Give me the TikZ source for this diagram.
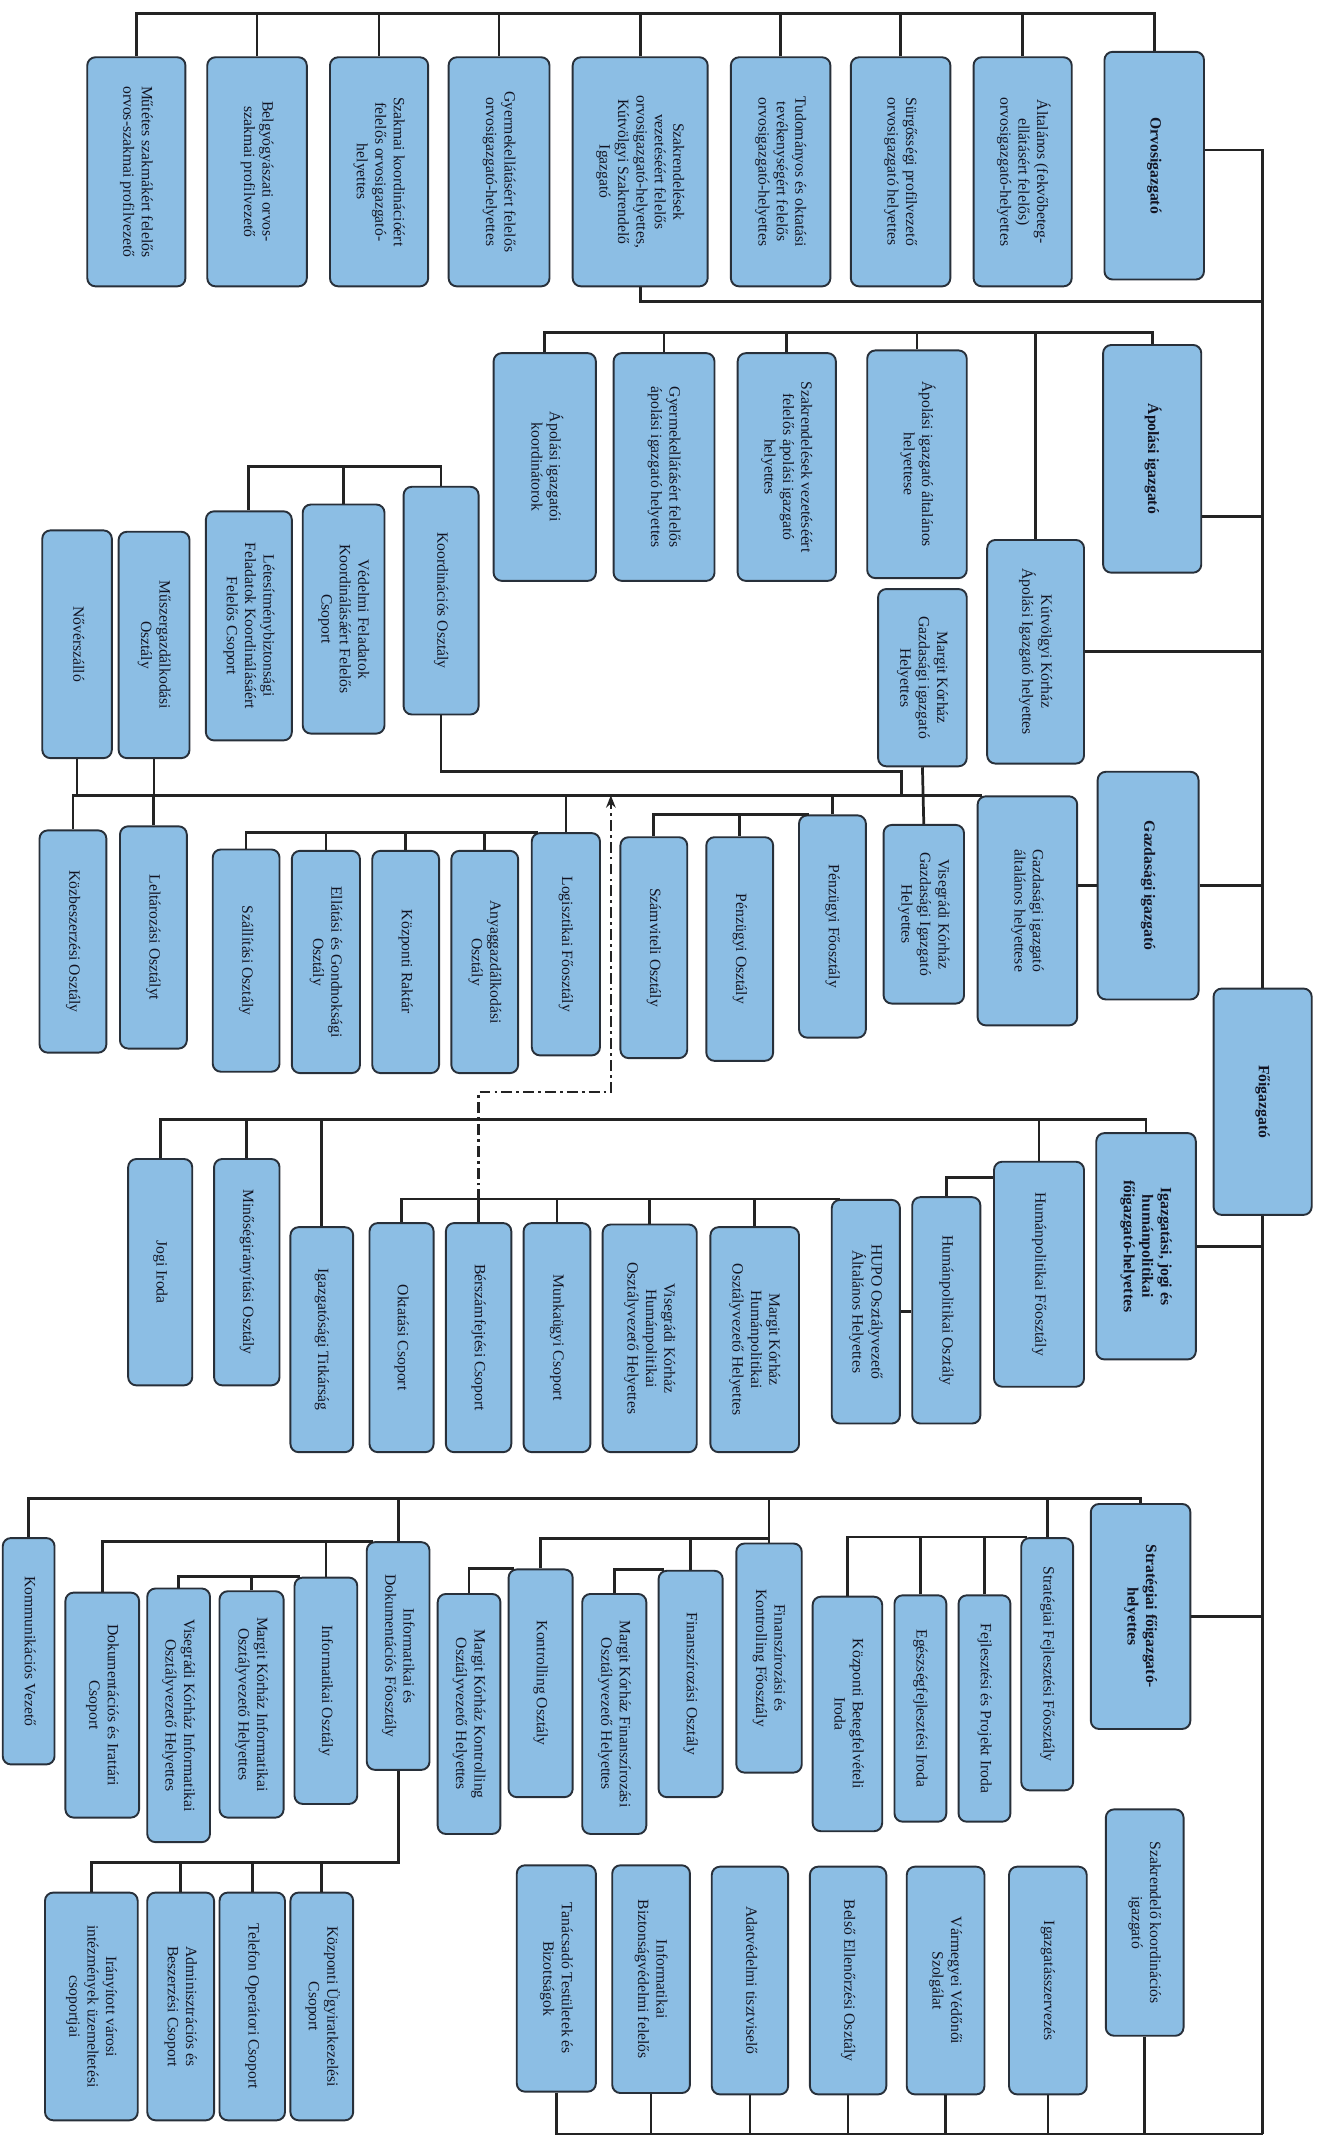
\documentclass[tikz,border=0pt]{standalone}
\usepackage{fontspec}
\setmainfont{Liberation Serif}
\usepackage{graphicx}
\usetikzlibrary{arrows.meta}
\definecolor{boxfill}{RGB}{140,190,228}
\definecolor{boxline}{RGB}{40,48,58}
\definecolor{wirec}{RGB}{35,35,35}
\definecolor{ink}{RGB}{18,20,35}
\newcommand{\vtxt}[1]{\rotatebox{-90}{\begin{tabular}{@{}c@{}}#1\end{tabular}}}

\begin{document}
\begin{tikzpicture}[x=1pt,y=-1pt,line join=miter,>=Stealth,
  every node/.style={font=\fontsize{11.5}{13.5}\selectfont,text=ink},
  box/.style 2 args={draw=boxline,fill=boxfill,line width=1.4pt,rounded corners=6pt,
    inner sep=0pt,minimum width=#1pt,minimum height=#2pt},
  boss/.style={font=\fontsize{11.5}{13.5}\selectfont\bfseries},
  wire/.style={draw=wirec,line width=2pt},
  viaarrow/.style={draw=wirec,line width=1.7pt,dash pattern=on 8pt off 3pt on 2pt off 3pt,
    -{Stealth[length=9pt,width=7pt]}}]
  \useasboundingbox (0,0) rectangle (970,1568);
  \fill[white] (0,0) rectangle (970,1568);

  % orvosigazgato
  \node[box={72}{168}] (mutetes) at (100,126) {\vtxt{Műtétes szakmákért felelős\\orvos-szakmai profilvezető}};
  \node[box={73}{168}] (belgy) at (188.5,126) {\vtxt{Belgyógyászati orvos-\\szakmai profilvezető}};
  \node[box={72}{168}] (szakmkoord) at (278,126) {\vtxt{Szakmai koordinációért\\felelős orvosigazgató-\\helyettes}};
  \node[box={74}{168}] (gyerm) at (366,126) {\vtxt{Gyermekellátásért felelős\\orvosigazgató-helyettes}};
  \node[box={99}{168}] (szakr) at (469.5,126) {\vtxt{Szakrendelések\\vezetéséért felelős\\orvosigazgató-helyettes,\\Kútvölgyi Szakrendelő\\Igazgató}};
  \node[box={73}{168}] (tud) at (572.5,126) {\vtxt{Tudományos és oktatási\\tevékenységért felelős\\orvosigazgató-helyettes}};
  \node[box={73}{168}] (surg) at (660.5,126) {\vtxt{Sürgősségi profilvezető\\orvosigazgató helyettes}};
  \node[box={72}{168}] (altal) at (750,126) {\vtxt{Általános (fekvőbeteg-\\ellátásért felelős)\\orvosigazgató-helyettes}};
  \node[box={73}{167},boss] (orv) at (846.5,121.5) {\vtxt{Orvosigazgató}};

  % apolasi igazgato
  \node[box={75}{167}] (apkoord) at (399.5,342.5) {\vtxt{Ápolási igazgatói\\koordinátorok}};
  \node[box={74}{167}] (apgyerm) at (487,342.5) {\vtxt{Gyermekellátásért felelős\\ápolási igazgató helyettes}};
  \node[box={72}{167}] (apszakr) at (577,342.5) {\vtxt{Szakrendelések vezetéséért\\felelős ápolási igazgató\\helyettes}};
  \node[box={73}{167}] (apalt) at (672.5,340.5) {\vtxt{Ápolási igazgató általános\\helyettese}};
  \node[box={72}{167},boss] (apol) at (845,336.5) {\vtxt{Ápolási igazgató}};
  \node[box={71}{164}] (kutv) at (759.5,478) {\vtxt{Kútvölgyi Kórház\\Ápolási Igazgató helyettes}};

  % koordinacio
  \node[box={51}{167}] (novsz) at (56.5,472.5) {\vtxt{Nővérszálló}};
  \node[box={52}{166}] (muszer) at (113,473) {\vtxt{Műszergazdálkodási\\Osztály}};
  \node[box={63}{168}] (letes) at (182.5,459) {\vtxt{Létesítménybiztonsági\\Feladatok Koordinálásáért\\Felelős Csoport}};
  \node[box={60}{168}] (vedelmi) at (252,454) {\vtxt{Védelmi Feladatok\\Koordinálásáért Felelős\\Csoport}};
  \node[box={55}{167}] (koord) at (323.5,440.5) {\vtxt{Koordinációs Osztály}};

  % gazdasagi igazgato
  \node[box={74}{167},boss] (gazd) at (842,649.5) {\vtxt{Gazdasági igazgató}};
  \node[box={73}{168}] (gazdalt) at (753.5,668) {\vtxt{Gazdasági igazgató\\általános helyettese}};
  \node[box={65}{130}] (margg) at (676.5,497) {\vtxt{Margit Kórház\\Gazdasági igazgató\\Helyettes}};
  \node[box={59}{131}] (viseg) at (677.5,670.5) {\vtxt{Visegrádi Kórház\\Gazdasági Igazgató\\Helyettes}};
  \node[box={49}{163}] (penzf) at (610.5,679.5) {\vtxt{Pénzügyi Főosztály}};
  \node[box={49}{164}] (penzo) at (542.5,696) {\vtxt{Pénzügyi Osztály}};
  \node[box={49}{162}] (szamv) at (479.5,695) {\vtxt{Számviteli Osztály}};
  \node[box={50}{163}] (logi) at (415,692.5) {\vtxt{Logisztikai Főosztály}};
  \node[box={49}{163}] (anyag) at (355.5,705.5) {\vtxt{Anyaggazdálkodási\\Osztály}};
  \node[box={49}{163}] (raktar) at (297.5,705.5) {\vtxt{Központi Raktár}};
  \node[box={50}{163}] (ellat) at (239,705.5) {\vtxt{Ellátási és Gondnoksági\\Osztály}};
  \node[box={49}{163}] (szall) at (180.5,704.5) {\vtxt{Szállítási Osztály}};
  \node[box={49}{163}] (leltar) at (112.5,687.5) {\vtxt{Leltározási Osztályt}};
  \node[box={49}{163}] (kozb) at (53.5,690.5) {\vtxt{Közbeszerzési Osztály}};

  % fo- es igazgatasi
  \node[box={72}{166},boss] (fo) at (926,808) {\vtxt{Főigazgató}};
  \node[box={73}{166},boss] (igjog) at (840.5,914) {\vtxt{Igazgatási, jogi és\\humánpolitikai\\főigazgató-helyettes}};
  \node[box={66}{165}] (humfo) at (762,934.5) {\vtxt{Humánpolitikai Főosztály}};
  \node[box={50}{166}] (humo) at (694,961) {\vtxt{Humánpolitikai Osztály}};
  \node[box={50}{164}] (hupo) at (635,962) {\vtxt{HUPO Osztályvezető\\Általános Helyettes}};
  \node[box={65}{165}] (margh) at (553.5,982.5) {\vtxt{Margit Kórház\\Humánpolitikai\\Osztályvezető Helyettes}};
  \node[box={69}{167}] (visegh) at (476.5,981.5) {\vtxt{Visegrádi Kórház\\Humánpolitikai\\Osztályvezető Helyettes}};
  \node[box={49}{168}] (munka) at (408.5,981) {\vtxt{Munkaügyi Csoport}};
  \node[box={48}{168}] (berszam) at (351,981) {\vtxt{Bérszámfejtési Csoport}};
  \node[box={47}{168}] (oktat) at (294.5,981) {\vtxt{Oktatási Csoport}};
  \node[box={46}{165}] (titk) at (236,982.5) {\vtxt{Igazgatósági Titkárság}};
  \node[box={48}{166}] (minos) at (181,933) {\vtxt{Minőségirányítási Osztály}};
  \node[box={47}{166}] (jogi) at (117.5,933) {\vtxt{Jogi Iroda}};

  % strategiai
  \node[box={73}{165},boss] (strat) at (836.5,1185.5) {\vtxt{Stratégiai főigazgató-\\helyettes}};
  \node[box={38}{185}] (stfejl) at (768,1220.5) {\vtxt{Stratégiai Fejlesztési Főosztály}};
  \node[box={38}{166}] (fejlpr) at (722,1253) {\vtxt{Fejlesztési és Projekt Iroda}};
  \node[box={38}{166}] (egesz) at (675,1253) {\vtxt{Egészségfejlesztési Iroda}};
  \node[box={51}{172}] (kozbeteg) at (621.5,1257) {\vtxt{Központi Betegfelvételi\\Iroda}};
  \node[box={48}{168}] (finko) at (564,1216) {\vtxt{Finanszírozási és\\Kontrolling Főosztály}};
  \node[box={47}{166}] (finoszt) at (506.5,1235) {\vtxt{Finanszírozási Osztály}};
  \node[box={47}{176}] (margfin) at (450.5,1257) {\vtxt{Margit Kórház Finanszírozási\\Osztályvezető Helyettes}};
  \node[box={47}{167}] (kontr) at (396.5,1234.5) {\vtxt{Kontrolling Osztály}};
  \node[box={46}{176}] (margkon) at (344,1257) {\vtxt{Margit Kórház Kontrolling\\Osztályvezető Helyettes}};
  \node[box={46}{167}] (infodok) at (292,1214.5) {\vtxt{Informatikai és\\Dokumentációs Főosztály}};
  \node[box={46}{166}] (infoszt) at (239,1240) {\vtxt{Informatikai Osztály}};
  \node[box={47}{166}] (margin) at (184.5,1250) {\vtxt{Margit Kórház Informatikai\\Osztályvezető Helyettes}};
  \node[box={46}{186}] (visin) at (131,1258) {\vtxt{Visegrádi Kórház Informatikai\\Osztályvezető Helyettes}};
  \node[box={54}{165}] (dokir) at (75,1250.5) {\vtxt{Dokumentációs és Irattári\\Csoport}};
  \node[box={38}{166}] (kommun) at (21,1211) {\vtxt{Kommunikációs Vezető}};
  \node[box={68}{167}] (irany) at (67,1471.5) {\vtxt{Irányított városi\\intézmények üzemeltetési\\csoportjai}};
  \node[box={49}{167}] (admin) at (132.5,1471.5) {\vtxt{Adminisztrációs és\\Beszerzési Csoport}};
  \node[box={48}{167}] (telefon) at (185,1471.5) {\vtxt{Telefon Operátori Csoport}};
  \node[box={46}{167}] (ugyirat) at (236,1471.5) {\vtxt{Központi Ügyiratkezelési\\Csoport}};

  % also sor
  \node[box={58}{166}] (tanacs) at (408,1451) {\vtxt{Tanácsadó Testületek és\\Bizottságok}};
  \node[box={57}{167}] (infobiz) at (477.5,1451.5) {\vtxt{Informatikai\\Biztonságvédelmi felelős}};
  \node[box={56}{167}] (adatv) at (550,1452.5) {\vtxt{Adatvédelmi tisztviselő}};
  \node[box={56}{167}] (belso) at (622,1452.5) {\vtxt{Belső Ellenőrzési Osztály}};
  \node[box={57}{167}] (varm) at (693.5,1452.5) {\vtxt{Vármegyei Védőnői\\Szolgálat}};
  \node[box={57}{167}] (igszerv) at (768.5,1452.5) {\vtxt{Igazgatásszervezés}};
  \node[box={57}{166}] (szkoordig) at (839.5,1410) {\vtxt{Szakrendelő koordinációs\\igazgató}};

  % connectors
  \coordinate (obus) at (0,10);
  \draw[wire] (mutetes.north) |- (obus -| orv.north) -- (orv.north);
  \foreach \n in {belgy,szakmkoord,gyerm,szakr,tud,surg,altal}
    \draw[wire] (\n.north) -- (\n.north |- obus);
  \draw[wire] ([yshift=11.5pt]orv.east) -| (fo.north);
  \coordinate (sline) at (0,221);
  \draw[wire] (szakr.south) |- (sline -| fo.north);

  \coordinate (abus) at (0,244);
  \draw[wire] (apkoord.north) |- (abus -| apol.north) -- (apol.north);
  \foreach \n in {apgyerm,apszakr,apalt,kutv}
    \draw[wire] (\n.north) -- (\n.north |- abus);
  \coordinate (apolr) at ([yshift=-42.5pt]apol.east);
  \draw[wire] (apolr) -- (apolr -| fo.north);
  \draw[wire] (kutv.east) -- (kutv.east -| fo.north);

  \coordinate (kbus) at (0,342);
  \draw[wire] (letes.north) |- (kbus -| koord.north) -- (koord.north);
  \draw[wire] (vedelmi.north) -- (vedelmi.north |- kbus);

  \coordinate (gbus) at ([xshift=4pt]gazdalt.north west);
  \draw[wire] (kozb.north) |- (gbus);
  \foreach \n in {leltar,logi,penzf}
    \draw[wire] (\n.north) -- (\n.north |- gbus);
  \foreach \n in {novsz,muszer}
    \draw[wire] (\n.south) -- (\n.south |- gbus);
  \draw[wire] (margg.south) -- (viseg.north);
  \coordinate (kdrop) at (661,566);
  \draw[wire] (koord.south) |- (kdrop) -- (kdrop |- gbus);
  \draw[wire] (gazd.west) -- (gazd.west -| gazdalt.east);
  \draw[wire] (gazd.east) -- (gazd.east -| fo.north);
  \coordinate (lbus) at ([xshift=5pt]logi.north west);
  \draw[wire] (szall.north) |- (lbus);
  \foreach \n in {ellat,raktar,anyag}
    \draw[wire] (\n.north) -- (\n.north |- lbus);
  \coordinate (pbus) at ([xshift=8pt]penzf.north west);
  \draw[wire] (szamv.north) |- (pbus);
  \draw[wire] (penzo.north) -- (penzo.north |- pbus);

  \coordinate (dd) at (448,801);
  \draw[viaarrow] (berszam.north) |- (dd) -- (dd |- gbus);

  \coordinate (igbus) at (0,821);
  \draw[wire] (jogi.north) |- (igbus -| igjog.north) -- (igjog.north);
  \foreach \n in {minos,titk,humfo}
    \draw[wire] (\n.north) -- (\n.north |- igbus);
  \coordinate (hbus) at ([xshift=7pt]hupo.north west);
  \draw[wire] (oktat.north) |- (hbus);
  \foreach \n in {berszam,munka,visegh,margh}
    \draw[wire] (\n.north) -- (\n.north |- hbus);
  \draw[wire] (hupo.east) -- (hupo.east -| humo.west);
  \draw[wire] (humo.north) |- ([yshift=-12pt]humfo.north west);
  \draw[wire] (igjog.east) -- (igjog.east -| fo.north);

  \coordinate (sbus) at (0,1099);
  \draw[wire] (kommun.north) |- (sbus -| strat.north) -- (strat.north);
  \foreach \n in {infodok,finko,stfejl}
    \draw[wire] (\n.north) -- (\n.north |- sbus);
  \draw[wire] (strat.east) -- (strat.east -| fo.north);
  \coordinate (sfbus) at ([xshift=5pt]stfejl.north west);
  \draw[wire] (kozbeteg.north) |- (sfbus);
  \foreach \n in {egesz,fejlpr}
    \draw[wire] (\n.north) -- (\n.north |- sfbus);
  \coordinate (fbus) at ([yshift=3pt]finko.north);
  \draw[wire] (kontr.north) |- (fbus);
  \draw[wire] (finoszt.north) -- (finoszt.north |- fbus);
  \coordinate (fobus) at ([xshift=5pt]finoszt.north west);
  \draw[wire] (margfin.north) |- (fobus);
  \coordinate (kobus) at ([xshift=5pt]kontr.north west);
  \draw[wire] (margkon.north) |- (kobus);
  \coordinate (idbus) at ([xshift=5pt]infodok.north west);
  \draw[wire] (dokir.north) |- (idbus);
  \draw[wire] (infoszt.north) -- (infoszt.north |- idbus);
  \coordinate (iobus) at ([xshift=5pt]infoszt.north west);
  \draw[wire] (visin.north) |- (iobus);
  \draw[wire] (margin.north) -- (margin.north |- iobus);
  \coordinate (ibus) at (0,1366);
  \draw[wire] (infodok.south) |- (ibus -| irany.north) -- (irany.north);
  \foreach \n in {admin,telefon,ugyirat}
    \draw[wire] (\n.north) -- (\n.north |- ibus);

  \coordinate (bot) at (926,1565);
  \draw[wire] (fo.south) -- (bot);
  \draw[wire] (tanacs.south) |- (bot);
  \foreach \n in {infobiz,adatv,belso,varm,igszerv,szkoordig}
    \draw[wire] (\n.south) -- (\n.south |- bot);
\end{tikzpicture}
\end{document}
